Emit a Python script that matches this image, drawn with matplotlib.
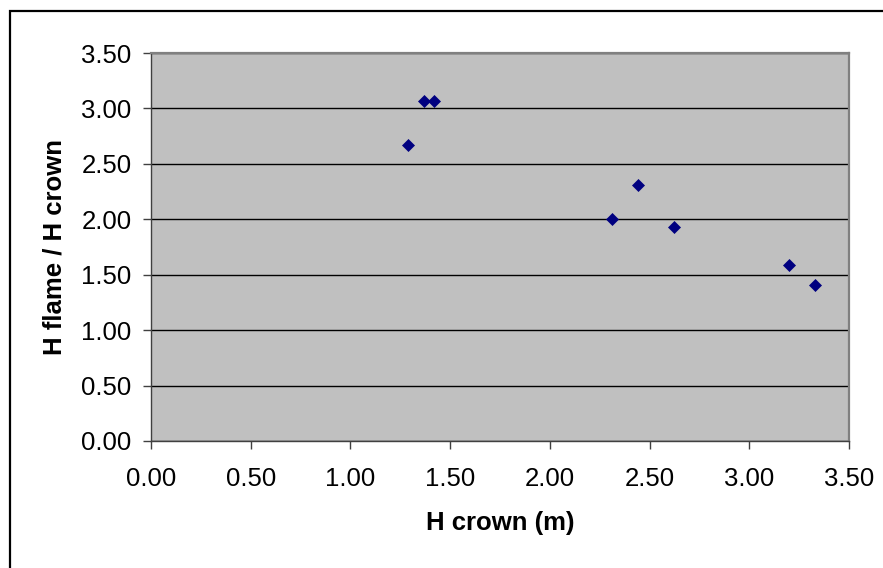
import matplotlib.pyplot as plt
from matplotlib.patches import Rectangle

# data
h_crown = [1.29, 1.37, 1.42, 2.31, 2.44, 2.62, 3.20, 3.33]
ratio = [2.67, 3.07, 3.07, 2.00, 2.31, 1.93, 1.59, 1.41]
ticks = [0.0, 0.5, 1.0, 1.5, 2.0, 2.5, 3.0, 3.5]

plt.rcParams['font.family'] = ['Liberation Sans', 'DejaVu Sans']

W, H = 883, 568
fig = plt.figure(figsize=(W / 100, H / 100), dpi=100)

# outer chart border (runs past the right and bottom edge)
fig.patches.append(Rectangle((9.5 / W, -0.1), 1.2, (H - 11) / H + 0.1,
                             transform=fig.transFigure, fill=False,
                             edgecolor='black', linewidth=1.6))

left, right, top, bottom = 151, 849, 53, 441
ax = fig.add_axes([left / W, 1 - bottom / H, (right - left) / W, (bottom - top) / H])
ax.set_facecolor('#C0C0C0')

ax.plot(h_crown, ratio, linestyle='none', marker='D', markersize=6.5,
        color='#000080', markeredgecolor='#000080', markeredgewidth=0.5,
        zorder=3)

ax.set_xlim(0, 3.5)
ax.set_ylim(0, 3.5)
ax.set_xticks(ticks)
ax.set_yticks(ticks)
ax.set_xticklabels([f'{t:.2f}' for t in ticks])
ax.set_yticklabels([f'{t:.2f}' for t in ticks])
ax.tick_params(direction='out', length=6, width=1, color='#404040',
               labelsize=18.5)
ax.tick_params(axis='x', pad=13)
ax.tick_params(axis='y', pad=8)

ax.yaxis.grid(True, color='black', linewidth=1)
ax.set_axisbelow(True)

for side in ['top', 'right']:
    ax.spines[side].set_color('#808080')
    ax.spines[side].set_linewidth(1.6)
for side in ['left', 'bottom']:
    ax.spines[side].set_color('#404040')
    ax.spines[side].set_linewidth(1)

ax.set_xlabel('H crown (m)', fontsize=18.5, fontweight='bold', labelpad=14)
ax.set_ylabel('H flame / H crown', fontsize=18.5, fontweight='bold', labelpad=11)

fig.savefig('out.png', dpi=100)
